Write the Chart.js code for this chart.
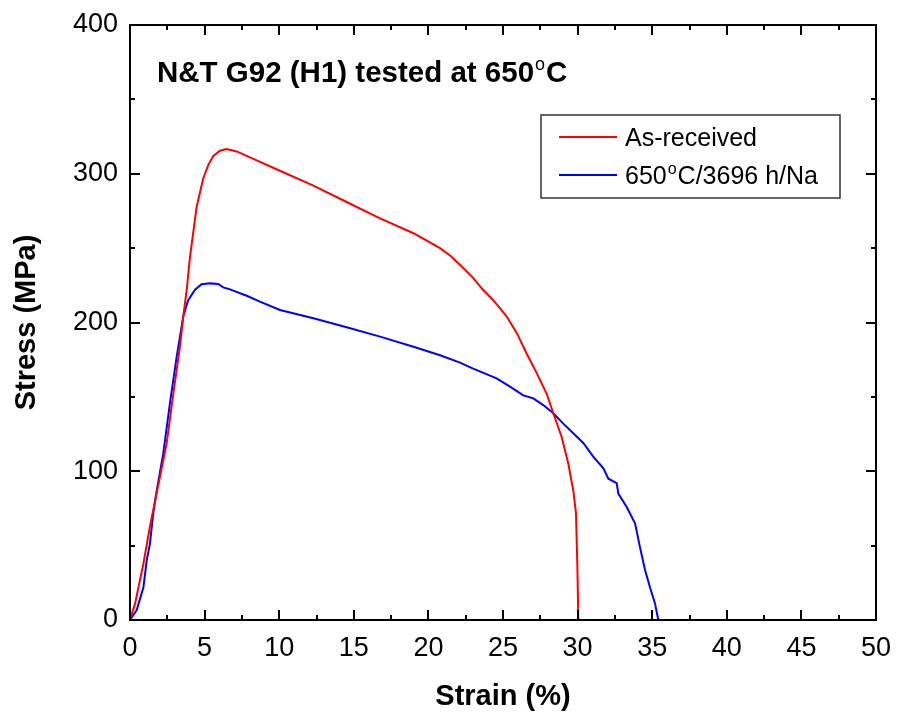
<!DOCTYPE html>
<html>
<head>
<meta charset="utf-8">
<script src="https://cdn.jsdelivr.net/npm/chart.js@4.4.1/dist/chart.umd.min.js"></script>
<style>
  html, body { margin: 0; padding: 0; background: #fff; }
  #wrap { width: 898px; height: 716px; }
</style>
</head>
<body>
<div id="wrap"><canvas id="chart" width="898" height="716"></canvas></div>
<script>
/* ================= DATA ================= */
const chartTitle = "N&T G92 (H1) tested at 650°C";
const xTitle = "Strain (%)";
const yTitle = "Stress (MPa)";

const labelA = "As-received";
const labelB = "650°C/3696 h/Na";

// as-received: strain (%), stress (MPa)
const strainA = [0, 0.34, 0.67, 0.9, 1.34, 1.56, 2.0, 2.46, 2.9, 3.35, 3.57, 3.8, 4.02, 4.47, 4.91, 5.25, 5.58, 6.03, 6.48, 7.15, 8.49, 10.05, 12.29, 14.52, 16.76, 19.0, 20.78, 21.45, 22.1, 23.0, 23.57, 24.35, 25.25, 25.92, 26.59, 27.26, 27.93, 28.37, 28.93, 29.38, 29.71, 29.89, 29.98, 30.05];
const stressA = [0, 11, 27, 38, 63, 74, 96, 119, 152, 184, 204, 222, 244, 278, 297, 306, 312, 315.5, 316.6, 315, 309, 302, 292, 281, 270, 260, 250, 245, 239, 230, 223, 215, 204, 193, 179, 166, 152, 139, 123, 105, 87, 72, 38, 0];

// aged 650C / 3696 h / Na
const strainB = [0, 0.45, 0.9, 1.12, 1.34, 1.56, 1.79, 2.23, 2.68, 3.13, 3.57, 3.9, 4.36, 4.8, 5.36, 5.92, 6.25, 6.7, 7.82, 8.71, 10.05, 12.29, 14.52, 16.76, 19.0, 20.78, 22.12, 23.0, 24.57, 25.47, 26.36, 27.03, 27.7, 28.37, 29.04, 29.71, 30.38, 31.05, 31.73, 32.06, 32.62, 32.73, 33.29, 33.85, 34.18, 34.52, 34.85, 35.19, 35.41];
const stressB = [0, 6.7, 22, 40, 51.5, 72, 87, 112, 146, 177, 204, 215, 222, 225.7, 226.3, 225.9, 223.6, 222.3, 218, 214, 208.4, 202.8, 196.8, 190.5, 183.7, 178, 173, 169, 162.5, 156.9, 151, 149, 144.5, 139, 132, 125.5, 119, 109.8, 102, 95, 92, 85, 76, 65, 49, 33.6, 22, 11, 0];

const xMin = 0, xMax = 50, xStep = 5;
const yMin = 0, yMax = 400, yStep = 100;

/* ================= HELPERS ================= */
const FONT = "'Liberation Sans', Arial, sans-serif";
const toXY = (xs, ys) => xs.map((x, i) => ({ x, y: ys[i] }));

// draw text where "°" becomes a raised small "o"
function drawRich(ctx, text, x, y, size, weight) {
  const parts = text.split("°");
  ctx.textBaseline = "alphabetic";
  ctx.textAlign = "left";
  let cx = x;
  parts.forEach((p, i) => {
    ctx.font = `${weight} ${size}px ${FONT}`;
    ctx.fillText(p, cx, y);
    cx += ctx.measureText(p).width;
    if (i < parts.length - 1) {
      ctx.font = `normal ${Math.round(size * 0.62)}px ${FONT}`;
      ctx.fillText("o", cx + 1, y - size * 0.42);
      cx += ctx.measureText("o").width + 2;
    }
  });
  return cx;
}

/* ================= PLUGIN: frame, inner ticks, title, legend ================= */
const framePlugin = {
  id: "frame",
  afterDraw(chart) {
    const { ctx, chartArea: a, scales: { x, y } } = chart;
    ctx.save();
    ctx.strokeStyle = "#000";
    ctx.lineWidth = 2;
    ctx.strokeRect(a.left, a.top, a.right - a.left, a.bottom - a.top);

    ctx.beginPath();
    for (let v = xMin; v <= xMax; v += xStep / 2) {
      const px = Math.round(x.getPixelForValue(v));
      const len = (v % xStep === 0) ? 10 : 5;
      ctx.moveTo(px, a.bottom); ctx.lineTo(px, a.bottom - len);
      ctx.moveTo(px, a.top); ctx.lineTo(px, a.top + len);
    }
    for (let v = yMin; v <= yMax; v += yStep / 2) {
      const py = Math.round(y.getPixelForValue(v));
      const len = (v % yStep === 0) ? 10 : 5;
      ctx.moveTo(a.left, py); ctx.lineTo(a.left + len, py);
      ctx.moveTo(a.right, py); ctx.lineTo(a.right - len, py);
    }
    ctx.stroke();

    // title inside plot
    ctx.fillStyle = "#000";
    drawRich(ctx, chartTitle, a.left + 27, a.top + 57, 29.5, "bold");

    // legend box
    const lx = 541, ly = 115, lw = 299, lh = 83;
    ctx.lineWidth = 1.5;
    ctx.strokeStyle = "#333";
    ctx.strokeRect(lx, ly, lw, lh);
    chart.data.datasets.forEach((ds, i) => {
      const ry = ly + 22 + i * 38;
      ctx.strokeStyle = ds.borderColor;
      ctx.lineWidth = 2;
      ctx.beginPath();
      ctx.moveTo(lx + 18, ry); ctx.lineTo(lx + 76, ry);
      ctx.stroke();
      ctx.fillStyle = "#000";
      drawRich(ctx, ds.label, lx + 84, ry + 9, 25, "normal");
    });
    ctx.restore();
  }
};

/* ================= CHART ================= */
const ctx = document.getElementById("chart").getContext("2d");

new Chart(ctx, {
  type: "scatter",
  data: {
    datasets: [
      {
        label: labelA,
        data: toXY(strainA, stressA),
        showLine: true,
        borderColor: "#ff0000",
        borderWidth: 2,
        pointRadius: 0,
        tension: 0
      },
      {
        label: labelB,
        data: toXY(strainB, stressB),
        showLine: true,
        borderColor: "#0000ff",
        borderWidth: 2,
        pointRadius: 0,
        tension: 0
      }
    ]
  },
  options: {
    responsive: false,
    animation: false,
    layout: { padding: { top: 25, right: 22, left: 0, bottom: 0 } },
    plugins: {
      legend: { display: false },
      tooltip: { enabled: false }
    },
    scales: {
      x: {
        type: "linear",
        min: xMin, max: xMax,
        afterFit: s => { s.height = 96; s.paddingLeft = 0; s.paddingRight = 0; },
        grid: { display: false, drawTicks: false },
        border: { display: false },
        ticks: { stepSize: xStep, padding: 12, color: "#000", font: { family: FONT, size: 27 } },
        title: { display: true, text: xTitle, color: "#000", padding: { top: 0, bottom: 2 }, font: { family: FONT, size: 29, weight: "bold" } }
      },
      y: {
        type: "linear",
        min: yMin, max: yMax,
        afterFit: s => { s.width = 130; s.paddingTop = 0; s.paddingBottom = 0; },
        grid: { display: false, drawTicks: false },
        border: { display: false },
        ticks: { stepSize: yStep, padding: 12, color: "#000", font: { family: FONT, size: 27 } },
        title: { display: true, text: yTitle, color: "#000", padding: { top: 10, bottom: 0 }, font: { family: FONT, size: 29, weight: "bold" } }
      }
    }
  },
  plugins: [framePlugin]
});
</script>
</body>
</html>
